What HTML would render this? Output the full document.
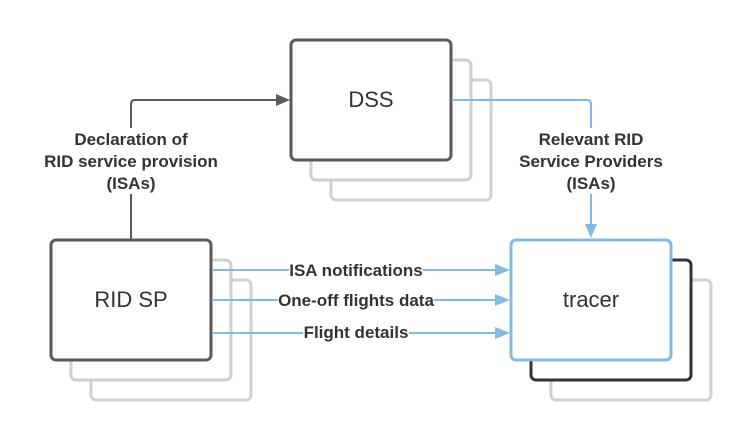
<!DOCTYPE html>
<html><head><style>body{margin:0;background:#fff}</style></head><body>
<svg width="751" height="440" xmlns="http://www.w3.org/2000/svg" font-family="Liberation Sans, sans-serif">
<g fill="#fff" stroke-width="3">
<rect x="331" y="80" width="160" height="120" rx="5" stroke="#d0d0d0"/>
<rect x="311" y="60" width="160" height="120" rx="5" stroke="#d0d0d0"/>
<rect x="291" y="40" width="160" height="120" rx="5" stroke="#5a5a5a"/>
<rect x="91" y="280" width="160" height="120" rx="5" stroke="#d0d0d0"/>
<rect x="71" y="260" width="160" height="120" rx="5" stroke="#d0d0d0"/>
<rect x="51" y="240" width="160" height="120" rx="5" stroke="#5a5a5a"/>
<rect x="551" y="280" width="160" height="120" rx="5" stroke="#d0d0d0"/>
<rect x="531" y="260" width="160" height="120" rx="5" stroke="#333"/>
<rect x="511" y="240" width="160" height="120" rx="5" stroke="#83b9e3"/>
</g>
<path d="M131,239 V104 Q131,100 135,100 H276" fill="none" stroke="#5a5a5a" stroke-width="2"/>
<path d="M276,94 L290,100 L276,106 z" fill="#5a5a5a"/>
<path d="M452,100 H587 Q591,100 591,104 V225" fill="none" stroke="#83b9e3" stroke-width="2"/>
<path d="M585,224 L591,238 L597,224 z" fill="#83b9e3"/>
<g stroke="#83b9e3" stroke-width="2"><line x1="212" y1="270" x2="496" y2="270"/><line x1="212" y1="300" x2="496" y2="300"/><line x1="212" y1="333" x2="496" y2="333"/></g>
<g fill="#83b9e3"><path d="M495,264 L510,270 L495,276 z"/><path d="M495,294 L510,300 L495,306 z"/><path d="M495,327 L510,333 L495,339 z"/></g>
<g fill="#fff"><rect x="40" y="128" width="182" height="66"/><rect x="510" y="128" width="162" height="66"/><rect x="289" y="260" width="134" height="20"/><rect x="278" y="290" width="156" height="20"/><rect x="303" y="323" width="106" height="20"/></g>
<g font-size="17" font-weight="bold" fill="#333" text-anchor="middle">
<text x="131" y="145">Declaration of</text><text x="131" y="167">RID service provision</text><text x="131" y="189">(ISAs)</text>
<text x="591" y="145">Relevant RID</text><text x="591" y="167">Service Providers</text><text x="591" y="189">(ISAs)</text>
<text x="356" y="276">ISA notifications</text><text x="356" y="306">One-off flights data</text><text x="356" y="338">Flight details</text>
</g>
<g font-size="22" fill="#333" text-anchor="middle">
<text x="371" y="107">DSS</text><text x="131" y="307">RID SP</text><text x="591" y="307">tracer</text>
</g>
</svg>
</body></html>
